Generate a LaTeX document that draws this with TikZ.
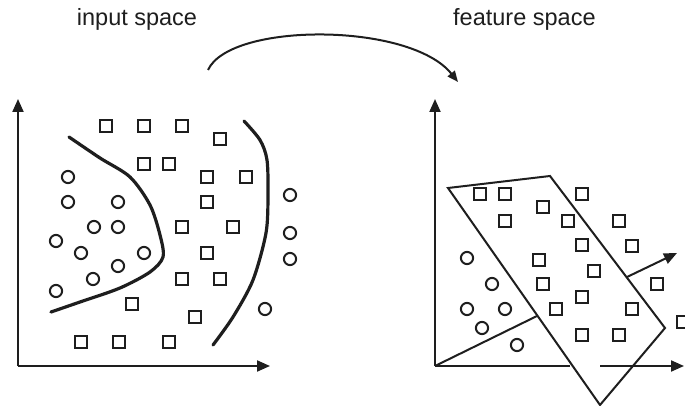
\documentclass[tikz,border=0pt]{standalone}
\usepackage{fontspec}
\setmainfont{Liberation Sans}
\usetikzlibrary{arrows.meta}
\definecolor{svmink}{RGB}{30,30,30}
\tikzset{
  sq/.style={draw=svmink,line width=2pt,minimum size=12.2pt,inner sep=0pt,shape=rectangle},
  circ/.style={draw=svmink,line width=2pt,minimum size=12.2pt,inner sep=0pt,shape=circle},
  axis/.style={draw=svmink,line width=2pt,-{Triangle[length=13pt,width=11pt]}},
  bound/.style={draw=svmink,line width=3.2pt,line cap=round},
  plane/.style={draw=svmink,line width=2pt,line join=miter},
  lbl/.style={font=\fontsize{23.5}{28}\selectfont,text=svmink,inner sep=0pt}
}
\begin{document}
\begin{tikzpicture}[x=1pt,y=-1pt]
        \useasboundingbox (0,0) rectangle (685,406);
        \node[lbl,anchor=base] (inlbl) at (137,25.7) {input space};
        \node[lbl,anchor=base west] (ftlbl) at (453,25.7) {feature space};
        \coordinate (mapA) at (208,70); \coordinate (mapB) at (458,82);
        \draw[svmink,line width=2pt,-{Triangle[length=11pt,width=9pt]}] (mapA) .. controls (230,22) and (410,22) .. (mapB);
        % input space
        \coordinate (o1) at (18,366); \coordinate (x1) at (270,366); \coordinate (y1) at (18,99);
        \draw[axis] (o1) -- (x1); \draw[axis] (o1) -- (y1);
        \draw[bound] plot[smooth] coordinates {(69,137) (100,158) (130,177) (150,205) (160,235) (163,257) (150,272) (120,288) (80,302) (51,312)};
        \draw[bound] plot[smooth] coordinates {(244,121) (260,140) (267,160) (268,195) (266,233) (253,280) (233,317) (213,345)};
        \foreach \x/\y [count=\i] in {106/126,144/126,182/126,220/139,144/164,169/164,207/177,246/177,207/202,182/227,233/227,207/253,182/279,220/279,132/304,195/317,81/342,119/342,169/342}
            \node[sq] (sa\i) at (\x,\y) {};
        \foreach \x/\y [count=\i] in {68/177,68/202,118/202,94/227,118/227,56/241,81/253,144/253,118/266,93/279,56/291,290/195,290/233,290/259,265/309}
            \node[circ] (ca\i) at (\x,\y) {};
        % feature space
        \coordinate (o2) at (435,366); \coordinate (y2) at (435,99);
        \coordinate (x2a) at (570,366); \coordinate (x2b) at (600,366); \coordinate (x2) at (684,366);
        \draw[axis] (o2) -- (y2); \draw[svmink,line width=2pt] (o2) -- (x2a);
        \coordinate (p1) at (448,188); \coordinate (p2) at (550,176); \coordinate (p3) at (665,328); \coordinate (p4) at (600,405);
        \draw[plane] (p1) -- (p2) -- (p3) -- (p4) -- cycle;
        \draw[axis] (x2b) -- (x2);
        \coordinate (nfoot) at (537,316); \coordinate (wfoot) at (627,277); \coordinate (wtip) at (677,253);
        \draw[svmink,line width=2pt] (o2) -- (nfoot);
        \draw[axis] (wfoot) -- (wtip);
        \foreach \x/\y [count=\i] in {480/194,505/194,582/194,543/207,505/221,568/221,619/221,582/245,632/246,539/260,594/271,543/284,657/284,582/297,556/309,632/309,582/335,619/335,683/322}
            \node[sq] (sb\i) at (\x,\y) {};
        \foreach \x/\y [count=\i] in {467/258,492/284,467/309,505/309,482/328,517/345}
            \node[circ] (cb\i) at (\x,\y) {};
      \end{tikzpicture}
\end{document}
